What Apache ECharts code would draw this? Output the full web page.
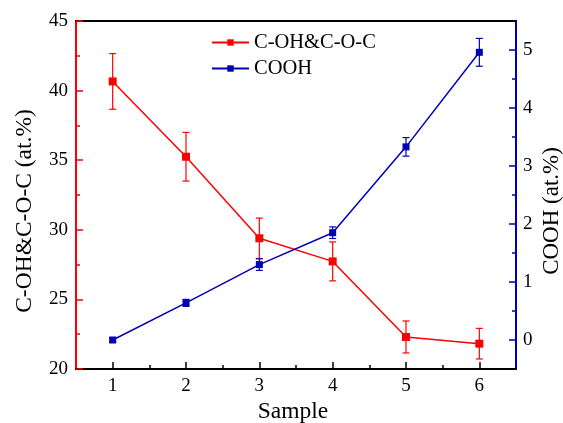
<!DOCTYPE html>
<html>
<head>
<meta charset="utf-8">
<script src="https://cdn.jsdelivr.net/npm/echarts@6/dist/echarts.min.js"></script>
<style>
  html, body { margin: 0; padding: 0; background: #fff; }
  #main { width: 563px; height: 423px; }
</style>
</head>
<body>
<div id="main"></div>
<script>
// data
var samples = [1, 2, 3, 4, 5, 6];
var cohValues = [40.66, 35.25, 29.39, 27.73, 22.30, 21.82];
var cohErrors = [2.0, 1.75, 1.45, 1.4, 1.15, 1.1];
var coohValues = [0.0, 0.64, 1.30, 1.85, 3.33, 4.96];
var coohErrors = [0.03, 0.06, 0.1, 0.1, 0.16, 0.24];
var rightTicks = [0, 1, 2, 3, 4, 5];
var rightMinor = [0.5, 1.5, 2.5, 3.5, 4.5];
var xMinor = [1.5, 2.5, 3.5, 4.5, 5.5];

var RED = '#ff0000';
var BLUE = '#0000b4';
var FONT = 'Liberation Serif';

function pairs(vals) {
  return samples.map(function (s, i) { return [s, vals[i]]; });
}
function errData(vals, errs) {
  return samples.map(function (s, i) { return [s, vals[i] - errs[i], vals[i] + errs[i]]; });
}
function errorBar(color) {
  return function (params, api) {
    var lo = api.coord([api.value(0), api.value(1)]);
    var hi = api.coord([api.value(0), api.value(2)]);
    var w = 3.5;
    var st = { stroke: color, lineWidth: 1.2 };
    return {
      type: 'group',
      children: [
        { type: 'line', shape: { x1: lo[0], y1: lo[1], x2: hi[0], y2: hi[1] }, style: st },
        { type: 'line', shape: { x1: lo[0] - w, y1: lo[1], x2: lo[0] + w, y2: lo[1] }, style: st },
        { type: 'line', shape: { x1: hi[0] - w, y1: hi[1], x2: hi[0] + w, y2: hi[1] }, style: st }
      ]
    };
  };
}

var labelStyle = { color: '#000', fontFamily: FONT, fontSize: 19 };

var option = {
  backgroundColor: '#fff',
  animation: false,
  grid: { left: 76, top: 21, right: 47, bottom: 54 },
  legend: {
    orient: 'vertical',
    left: 211,
    top: 32,
    padding: 0,
    itemWidth: 37,
    itemHeight: 8,
    itemGap: 5,
    textStyle: { color: '#000', fontFamily: FONT, fontSize: 20.5 },
    data: ['C-OH&C-O-C', 'COOH']
  },
  xAxis: [
    {
      type: 'value', min: 0.5, max: 6.5, position: 'bottom',
      axisLine: { onZero: false, lineStyle: { color: '#000', width: 2 } },
      axisTick: { inside: true, length: 7, customValues: samples, lineStyle: { color: '#000', width: 1.5 } },
      axisLabel: { customValues: samples, margin: 8, ...labelStyle },
      splitLine: { show: false }
    },
    {
      type: 'value', min: 0.5, max: 6.5, position: 'bottom',
      axisLine: { show: false, onZero: false },
      axisTick: { inside: true, length: 4, customValues: xMinor, lineStyle: { color: '#000', width: 1.5 } },
      axisLabel: { show: false },
      splitLine: { show: false }
    },
    {
      type: 'value', min: 0.5, max: 6.5, position: 'top',
      axisLine: { onZero: false, lineStyle: { color: '#000', width: 2 } },
      axisTick: { show: false },
      axisLabel: { show: false },
      splitLine: { show: false }
    }
  ],
  yAxis: [
    {
      type: 'value', min: 20, max: 45, interval: 5, position: 'left',
      axisLine: { show: true, onZero: false, lineStyle: { color: RED, width: 2 } },
      axisTick: { show: true, inside: true, length: 7, lineStyle: { color: RED, width: 1.5 } },
      minorTick: { show: true, splitNumber: 2, length: 4, lineStyle: { color: RED, width: 1.5 } },
      axisLabel: { margin: 8, ...labelStyle },
      splitLine: { show: false }
    },
    {
      type: 'value', min: -0.5, max: 5.5, position: 'right',
      axisLine: { show: true, onZero: false, lineStyle: { color: BLUE, width: 2 } },
      axisTick: { show: true, inside: true, length: 7, customValues: rightTicks, lineStyle: { color: BLUE, width: 1.5 } },
      axisLabel: { customValues: rightTicks, margin: 7, ...labelStyle },
      splitLine: { show: false }
    },
    {
      type: 'value', min: -0.5, max: 5.5, position: 'right',
      axisLine: { show: false, onZero: false },
      axisTick: { show: true, inside: true, length: 4, customValues: rightMinor, lineStyle: { color: BLUE, width: 1.5 } },
      axisLabel: { show: false },
      splitLine: { show: false }
    }
  ],
  graphic: [
    { type: 'text', x: 25, y: 211, rotation: Math.PI / 2,
      style: { text: 'C-OH&C-O-C (at.%)', fontFamily: FONT, fontSize: 23.5, fill: '#000', align: 'center', verticalAlign: 'middle' } },
    { type: 'text', x: 552, y: 211, rotation: Math.PI / 2,
      style: { text: 'COOH (at.%)', fontFamily: FONT, fontSize: 23, fill: '#000', align: 'center', verticalAlign: 'middle' } },
    { type: 'text', x: 293, y: 412,
      style: { text: 'Sample', fontFamily: FONT, fontSize: 23.5, fill: '#000', align: 'center', verticalAlign: 'middle' } }
  ],
  series: [
    {
      type: 'custom', xAxisIndex: 0, yAxisIndex: 0, z: 1,
      renderItem: errorBar(RED),
      data: errData(cohValues, cohErrors)
    },
    {
      type: 'custom', xAxisIndex: 0, yAxisIndex: 1, z: 1,
      renderItem: errorBar(BLUE),
      data: errData(coohValues, coohErrors)
    },
    {
      name: 'C-OH&C-O-C', type: 'line', xAxisIndex: 0, yAxisIndex: 0, z: 3,
      symbol: 'rect', symbolSize: 8,
      itemStyle: { color: RED },
      lineStyle: { color: RED, width: 1.5 },
      data: pairs(cohValues)
    },
    {
      name: 'COOH', type: 'line', xAxisIndex: 0, yAxisIndex: 1, z: 3,
      symbol: 'rect', symbolSize: 7,
      itemStyle: { color: BLUE },
      lineStyle: { color: BLUE, width: 1.5 },
      data: pairs(coohValues)
    }
  ]
};

var chart = echarts.init(document.getElementById('main'));
chart.setOption(option);
</script>
</body>
</html>
